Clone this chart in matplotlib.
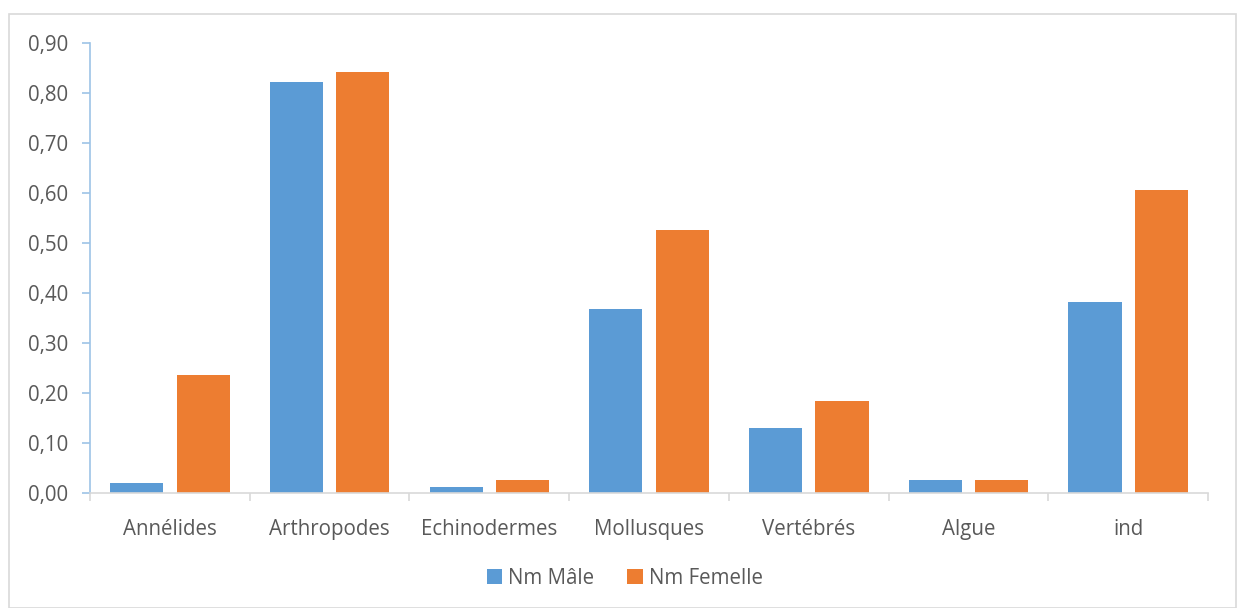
import numpy as np
import matplotlib.pyplot as plt
from matplotlib.patches import Rectangle

categories = ['Annélides', 'Arthropodes', 'Echinodermes', 'Mollusques', 'Vertébrés', 'Algue', 'ind']
male = [0.020, 0.822, 0.012, 0.368, 0.130, 0.026, 0.382]
femelle = [0.236, 0.842, 0.026, 0.526, 0.184, 0.026, 0.606]
yticks = np.arange(0, 0.91, 0.10)

plt.rcParams['font.family'] = ['Open Sans', 'DejaVu Sans']
txt = '#595959'
fs = 14.8

fig = plt.figure(figsize=(12.37, 6.08), dpi=100)
fig.patches.append(Rectangle((0.007, 0.0), 0.992, 0.977, transform=fig.transFigure,
                             fill=False, edgecolor='#D9D9D9', linewidth=1.2))
ax = fig.add_axes([0.0728, 0.1891, 0.9038, 0.7402])

x = np.arange(len(categories))
w = 0.333
ax.bar(x - 0.208, male, w, color='#5B9BD5', label='Nm Mâle')
ax.bar(x + 0.208, femelle, w, color='#ED7D31', label='Nm Femelle')

ax.set_xlim(-0.5, len(categories) - 0.5)
ax.set_ylim(0, 0.9)
ax.set_yticks(yticks)
ax.set_yticklabels([f'{v:.2f}'.replace('.', ',') for v in yticks], color=txt, fontsize=fs)
ax.set_xticks(x)
ax.set_xticklabels(categories, color=txt, fontsize=fs)
ax.set_xticks(np.arange(-0.5, len(categories)), minor=True)
ax.tick_params(axis='x', which='major', length=0, pad=19)
ax.tick_params(axis='x', which='minor', length=6, color='#D9D9D9', width=1.2)
ax.tick_params(axis='y', length=6, color='#9DC3E6', width=1.2, pad=10)

for s in ['top', 'right']:
    ax.spines[s].set_visible(False)
ax.spines['left'].set_color('#9DC3E6')
ax.spines['left'].set_linewidth(1.2)
ax.spines['bottom'].set_color('#D9D9D9')
ax.spines['bottom'].set_linewidth(1.2)

leg = fig.legend(loc='center', bbox_to_anchor=(0.505, 0.049), ncol=2, frameon=False,
                 fontsize=fs, handlelength=0.75, handleheight=0.75, handletextpad=0.3,
                 columnspacing=1.6)
for t in leg.get_texts():
    t.set_color(txt)

fig.savefig('out.png', dpi=100)
